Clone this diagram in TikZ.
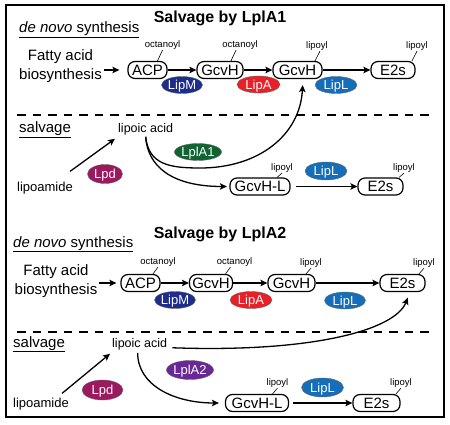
\documentclass[tikz,border=0pt]{standalone}
\usepackage{fontspec}
\setmainfont{Liberation Sans}
\usetikzlibrary{arrows.meta,shapes.geometric,calc}
\definecolor{cLipM}{RGB}{30,45,140}
\definecolor{cLipA}{RGB}{232,32,40}
\definecolor{cLipL}{RGB}{20,110,185}
\definecolor{cLplAone}{RGB}{15,100,50}
\definecolor{cLpd}{RGB}{155,25,95}
\definecolor{cLplAtwo}{RGB}{105,40,150}
\begin{document}
\begin{tikzpicture}[x=1pt,y=-1pt,
  box/.style={draw, line width=1.2pt, rounded corners=7pt, minimum height=17pt, inner sep=0pt,
    text height=10.8pt, text depth=0pt, font=\fontsize{15}{15}\selectfont},
  enz/.style={ellipse, draw=black!60, line width=0.4pt, inner sep=0pt, text=white,
    font=\fontsize{13}{13}\selectfont, text height=9.3pt, text depth=0pt},
  sml/.style={inner sep=0.5pt, font=\fontsize{9.5}{9.5}\selectfont},
  plain/.style={inner sep=0pt, anchor=base west},
  tickline/.style={line width=0.6pt},
  arr/.style={line width=1.3pt, -{Stealth[length=7pt,width=6.5pt,inset=1.5pt]}},
  sepline/.style={line width=1.3pt, dash pattern=on 8.5pt off 7pt},
]
\useasboundingbox (0,0) rectangle (450,425);
\draw[line width=2pt] (5.5,5.5) rectangle (444,416.5);

% ---------------- Panel 1 ----------------
\node[anchor=base, inner sep=0pt, font=\bfseries\fontsize{16}{16}\selectfont] (t1) at (220,23) {Salvage by LplA1};
\node[plain, font=\fontsize{15}{15}\selectfont] (dn1) at (19,33) {\underline{\textit{de novo} synthesis}};
\node[align=center, inner sep=0pt, font=\fontsize{15}{19}\selectfont] (fa1) at (60.5,66.5) {Fatty acid\\biosynthesis};

\node[box, minimum width=39pt] (acp1) at (147.5,70) {ACP};
\node[box, minimum width=46pt] (g1a) at (220,70) {GcvH};
\node[box, minimum width=49pt] (g2a) at (297.5,70) {GcvH};
\node[box, minimum width=44pt] (e2a) at (393,70) {E2s};

\node[sml] (o1) at (162.5,45) {octanoyl};
\node[sml] (o2) at (240,45) {octanoyl};
\node[sml] (l1) at (317,46) {lipoyl};
\node[sml] (l2) at (417,46) {lipoyl};
\draw[tickline] (o1.south) -- ([xshift=-5pt]o1.south |- acp1.north);
\draw[tickline] ([xshift=-4pt]o2.south) -- ([xshift=-9pt]o2.south |- g1a.north);
\draw[tickline] ([xshift=3pt]l1.south) -- ([xshift=-2pt]l1.south |- g2a.north);
\draw[tickline] (l2.south) -- ([xshift=-5pt]l2.south |- e2a.north);

\draw[arr, shorten <=2pt, shorten >=8pt] (fa1.east |- acp1) -- (acp1);
\draw[arr] (acp1) -- (g1a);
\draw[arr] (g1a) -- (g2a);
\draw[arr] (g2a) -- (e2a);

\draw[sepline] (17,115) -- (430,115);

\node[plain, font=\fontsize{15}{15}\selectfont] (sv1) at (19,133) {\underline{salvage}};
\node[plain, font=\fontsize{12.5}{12.5}\selectfont] (lia1) at (118,133) {lipoic acid};
\node[plain, font=\fontsize{13}{13}\selectfont] (lam1) at (17,192) {lipoamide};

\node[box, minimum width=60pt] (gl1) at (260,186.5) {GcvH-L};
\node[box, minimum width=45pt] (e2b) at (380.5,186.5) {E2s};
\node[sml] (l3) at (282,168) {lipoyl};
\node[sml] (l4) at (404,168) {lipoyl};
\draw[tickline] (l3.south) -- ([xshift=-5pt]l3.south |- gl1.north);
\draw[tickline] (l4.south) -- ([xshift=-5pt]l4.south |- e2b.north);

\draw[arr] ([xshift=-3pt,yshift=11pt]lam1.north east) -- ([xshift=-3pt,yshift=-9pt]lia1.west);
\coordinate (w1) at (200,168);
\draw[arr, shorten >=6pt] ([yshift=-1pt]lia1.south) .. controls +(3,28) and +(-30,0) .. (w1)
   .. controls +(60,0) and +(-3,55) .. ([xshift=5.5pt]g2a.south);
\draw[arr, shorten >=2.5pt] ([yshift=-1pt]lia1.south) .. controls +(3,38) and +(-45,0) .. (gl1.west);
\draw[arr, shorten <=5pt] (gl1) -- (e2b);

\node[enz, fill=cLipM, minimum width=41pt, minimum height=17pt] (lipm1) at (182,85) {LipM};
\node[enz, fill=cLipA, minimum width=43pt, minimum height=17pt] (lipa1) at (258.5,84.5) {LipA};
\node[enz, fill=cLipL, minimum width=42pt, minimum height=17pt] (lipl1) at (336,85) {LipL};
\node[enz, fill=cLplAone, minimum width=41pt, minimum height=17pt] (lpla1) at (198,152) {LplA1};
\node[enz, fill=cLpd, minimum width=35pt, minimum height=19pt] (lpd1) at (105,174) {Lpd};
\node[enz, fill=cLipL, minimum width=42pt, minimum height=18pt] (lipl2) at (326,171) {LipL};

% ---------------- Panel 2 ----------------
\node[anchor=base, inner sep=0pt, font=\bfseries\fontsize{16}{16}\selectfont] (t2) at (220,238) {Salvage by LplA2};
\node[plain, font=\fontsize{15}{15}\selectfont] (dn2) at (13,247) {\underline{\textit{de novo} synthesis}};
\node[align=center, inner sep=0pt, font=\fontsize{15}{19}\selectfont] (fa2) at (56,281.5) {Fatty acid\\biosynthesis};

\node[box, minimum width=39pt] (acp2) at (140.5,283) {ACP};
\node[box, minimum width=43pt] (g1b) at (211,283) {GcvH};
\node[box, minimum width=47pt] (g2b) at (291.5,283) {GcvH};
\node[box, minimum width=45pt] (e2c) at (402.5,283) {E2s};

\node[sml] (o3) at (158,262) {octanoyl};
\node[sml] (o4) at (234.5,262) {octanoyl};
\node[sml] (l5) at (311,263) {lipoyl};
\node[sml] (l6) at (424,263) {lipoyl};
\draw[tickline] (o3.south) -- ([xshift=-5pt]o3.south |- acp2.north);
\draw[tickline] ([xshift=-4pt]o4.south) -- ([xshift=-9pt]o4.south |- g1b.north);
\draw[tickline] (l5.south) -- ([xshift=-5pt]l5.south |- g2b.north);
\draw[tickline] (l6.south) -- ([xshift=-5pt]l6.south |- e2c.north);

\draw[arr, shorten <=2pt, shorten >=4pt] (fa2.east |- acp2) -- (acp2);
\draw[arr] (acp2) -- (g1b);
\draw[arr] (g1b) -- (g2b);
\draw[arr] (g2b) -- (e2c);

\draw[sepline] (17,332) -- (430,332);

\node[plain, font=\fontsize{15}{15}\selectfont] (sv2) at (13,347) {\underline{salvage}};
\node[plain, font=\fontsize{12.5}{12.5}\selectfont] (lia2) at (112,347) {lipoic acid};
\node[plain, font=\fontsize{13}{13}\selectfont] (lam2) at (13,407) {lipoamide};

\node[box, minimum width=63pt] (gl2) at (257,403) {GcvH-L};
\node[box, minimum width=47pt] (e2d) at (376.5,403) {E2s};
\node[sml] (l7) at (277.5,383) {lipoyl};
\node[sml] (l8) at (401,383) {lipoyl};
\draw[tickline] (l7.south) -- ([xshift=-5pt]l7.south |- gl2.north);
\draw[tickline] (l8.south) -- ([xshift=-5pt]l8.south |- e2d.north);

\draw[arr] ([xshift=-7pt,yshift=4pt]lam2.north east) -- ([xshift=-2pt,yshift=-10pt]lia2.west);
\draw[arr, shorten >=6pt] ([xshift=5pt,yshift=-4pt]lia2.east) .. controls +(140,5) and +(-15,38) .. ([xshift=7.5pt]e2c.south);
\draw[arr, shorten >=6pt] ([xshift=-2pt,yshift=-3pt]lia2.south) .. controls +(0,33) and +(-50,0) .. (gl2.west);
\draw[arr, shorten <=4pt] (gl2) -- (e2d);

\node[enz, fill=cLipM, minimum width=41pt, minimum height=17pt] (lipm2) at (175,300) {LipM};
\node[enz, fill=cLipA, minimum width=42pt, minimum height=17pt] (lipa2) at (251,300) {LipA};
\node[enz, fill=cLipL, minimum width=41pt, minimum height=17pt] (lipl3) at (345,300.5) {LipL};
\node[enz, fill=cLplAtwo, minimum width=41pt, minimum height=19pt] (lpla2) at (190,370) {LplA2};
\node[enz, fill=cLpd, minimum width=41pt, minimum height=20pt] (lpd2) at (102.5,390) {Lpd};
\node[enz, fill=cLipL, minimum width=42pt, minimum height=19pt] (lipl4) at (322.5,387.5) {LipL};
\end{tikzpicture}
\end{document}
